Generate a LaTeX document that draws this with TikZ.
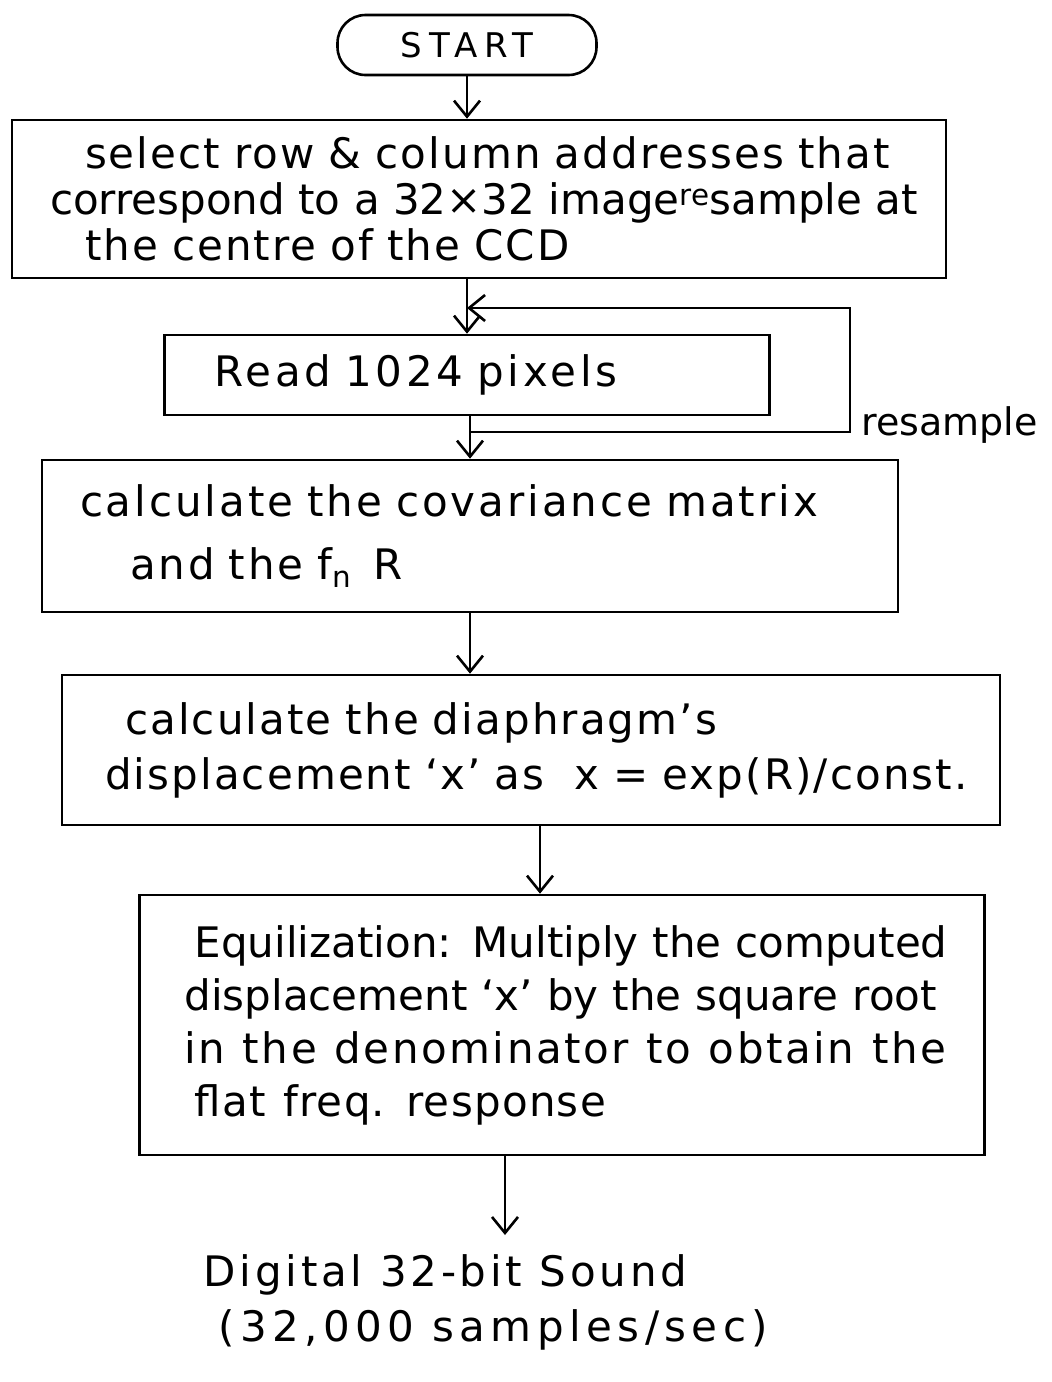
\documentclass[tikz,border=0pt]{standalone}
\usepackage{fontspec}
\setmainfont{DejaVu Sans}
\usetikzlibrary{arrows.meta}
\newcommand{\ls}[1]{\addfontfeatures{LetterSpace=#1}\spaceskip=0.42em\relax}
\begin{document}
\begin{tikzpicture}[x=1pt,y=-1pt,
  every node/.style={font=\fontsize{42}{46}\selectfont},
  box/.style={draw, line width=2.6pt, align=left, inner ysep=0pt, anchor=center},
  flow/.style={line width=2.6pt, -{Straight Barb[length=16pt,width=26pt,line width=2.6pt]}}]
\useasboundingbox[fill=white] (0,0) rectangle (1052,1382);

\node[draw, line width=2.6pt, rounded corners=28pt, minimum width=259pt, minimum height=60pt, inner sep=0pt, font=\fontsize{34}{46}\selectfont\ls{20}] (start) at (467,45) {START};

\node[box, minimum width=934pt, minimum height=158pt, text width=858pt, inner xsep=38pt, font=\fontsize{42}{46}\selectfont\ls{5}] (b1) at (479,199)
  {\hspace*{35pt}\mbox{select row \& column addresses that}\\
   \mbox{\addfontfeatures{LetterSpace=0}\spaceskip=0.32em\relax correspond to a 32×32 image\textsuperscript{re}sample at}\\
   \hspace*{35pt}\mbox{the centre of the CCD}};

\node[box, minimum width=605pt, minimum height=80pt, text width=505pt, inner xsep=50pt, font=\fontsize{42}{46}\selectfont\ls{9}] (b2) at (467,375)
  {\mbox{Read 1024 pixels}};

\node[box, minimum width=856pt, minimum height=152pt, text width=780pt, inner xsep=38pt, font=\fontsize{42}{63}\selectfont\ls{7}] (b3) at (470,536)
  {\mbox{calculate the covariance matrix}\\
   \hspace*{50pt}\mbox{and the f\textsubscript{n}\hspace{22pt}R}};

\node[box, minimum width=938pt, minimum height=150pt, text width=852pt, inner xsep=43pt, font=\fontsize{42}{55}\selectfont\ls{5}] (b4) at (531,750)
  {\hspace*{20pt}\mbox{calculate the diaphragm's}\\
   \mbox{displacement ‘x’ as\hspace{30pt}x = exp(R)/const.}};

\node[box, minimum width=845pt, minimum height=260pt, text width=755pt, inner xsep=45pt, font=\fontsize{42}{53}\selectfont] (b5) at (562,1025)
  {\hspace*{10pt}\mbox{Equilization: Multiply the computed}\\
   \mbox{displacement ‘x’ by the square root}\\
   \mbox{\ls{6}in the denominator to obtain the}\\
   \hspace*{10pt}\mbox{\ls{3}flat freq. response}};

\node[align=left, anchor=west, font=\fontsize{42}{55}\selectfont\ls{9}] (out) at (200,1302)
  {\mbox{Digital 32-bit Sound}\\
   \hspace*{15pt}\mbox{\ls{13}(32,000 samples/sec)}};

\node[anchor=west, font=\fontsize{38}{46}\selectfont] (rs) at (858,425) {resample};

\coordinate (o) at (505,1235);
\coordinate (la) at (b3.north |- 0,432);
\coordinate (lc) at (850,308);
\coordinate (ld) at (b2.north |- 0,308);

\draw[flow] (start.south) -- (start.south |- b1.north);
\draw[flow] (b2.north |- b1.south) -- (b2.north);
\draw[flow] (b3.north |- b2.south) -- (b3.north);
\draw[flow] (b3.south) -- (b3.south |- b4.north);
\draw[flow] ([xshift=9pt]b4.south) -- ([xshift=9pt]b4.south |- b5.north);
\draw[flow] (o |- b5.south) -- (o);
\draw[flow] (la) -| (lc) -- (ld);
\end{tikzpicture}
\end{document}
